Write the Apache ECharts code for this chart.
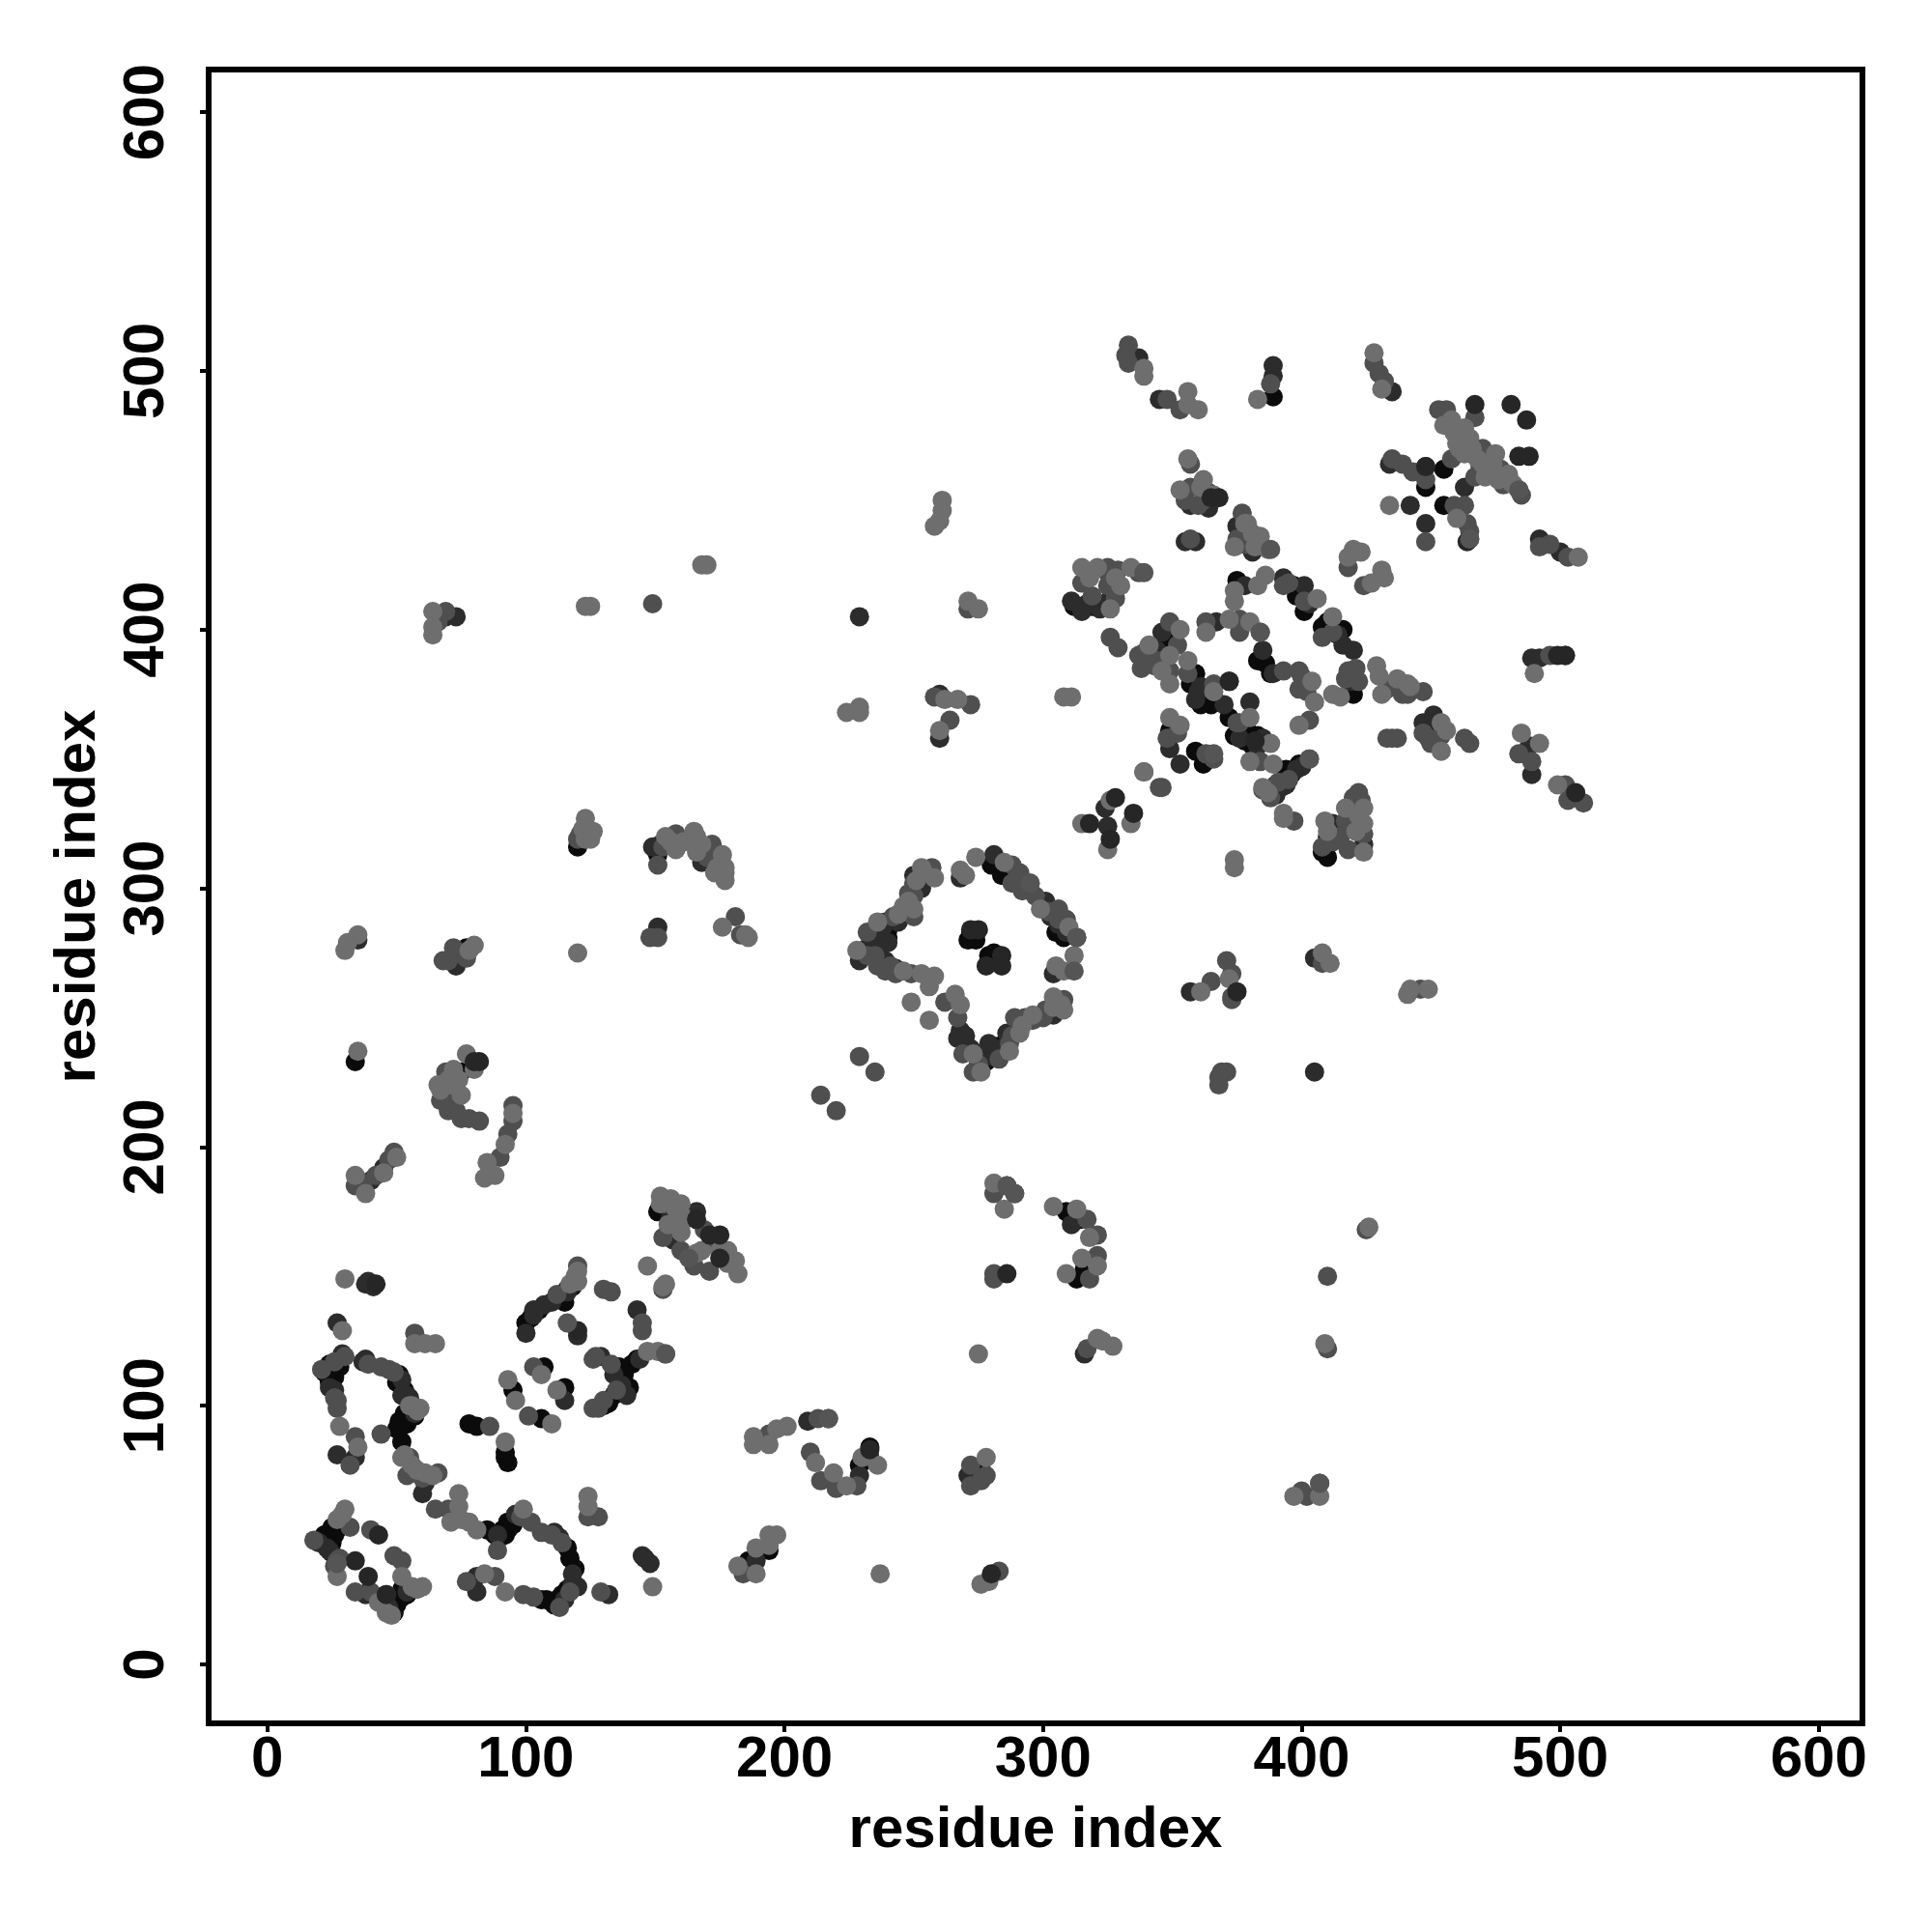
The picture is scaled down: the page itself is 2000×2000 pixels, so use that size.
<!DOCTYPE html>
<html>
<head>
<meta charset="utf-8">
<style>html,body{margin:0;padding:0;background:#fff}#c{width:2000px;height:2000px}</style>
<script src="https://cdn.jsdelivr.net/npm/echarts@6/dist/echarts.min.js"></script>
</head>
<body>
<div id="c"></div>
<script>
const tickLabels = [0, 100, 200, 300, 400, 500, 600];
const axisTitle = "residue index";

const blackPoints = [
[25,53],[24,51],[22,50],[25,47],[25,43],[23,48],[26,50],[22,48],[24,50],[26,53],[28,55],[27,52],[49,22],[51,25],[47,24],[53,27],[50,23],[44,26],[48,24],[52,29],[48,21],[50,24],[52,26],[54,27],[49,20],
[85,52],[91,52],[93,55],[111,23],[106,25],[113,24],[115,26],[92,50],[95,54],[88,50],[90,49],[93,52],[110,24],[112,25],[114,27],[116,29],[108,25],[117,41],[119,37],[116,45],
[24,116],[25,113],[22,113],[24,109],[26,111],[28,115],[23,112],[25,115],[28,118],[51,112],[53,106],[55,95],[52,92],[50,91],[52,86],[54,93],[57,96],[51,94],[53,97],[50,109],[56,96],
[113,142],[100,132],[102,134],[116,145],[115,140],[118,146],[105,137],[136,115],[141,116],[140,107],[132,101],[130,100],[143,118],[138,112],[134,104],
[78,93],[81,92],[92,82],[93,78],[92,80],[95,106],[107,115],[115,107],[106,95],
[151,175],[157,172],[229,77],[233,84],
[309,175],[314,172],[313,149],[316,153],[276,76],[186,40],[194,44],
[120,316],[151,313],[150,315],[169,314],[172,311],[176,309],[174,309],
[72,273],[77,277],[75,275],[74,275],[34,233],[75,229],
[240,284],[235,277],[240,281],[278,233],[283,239],[280,309],[284,305],[305,283],[308,281],[236,283],[234,280],
[271,280],[274,280],[272,283],[279,274],[281,275],
[410,320],[410,312],[408,314],[393,341],[390,338],[319,409],[315,408],[312,409],
[375,419],[397,417],[398,413],[401,407],[408,401],[416,400],[346,395],[349,399],[383,388],[388,383],[386,387],[400,414],[410,403],
[359,383],[357,379],[365,371],[361,371],[372,366],[374,359],[379,361],[383,359],[349,361],[359,353],[362,348],[366,374],[378,357],[381,355],
[394,346],[399,348],[396,344],[419,377],[420,375],[450,362],[389,490],[455,462],[448,455],[455,448]
];
const darkPoints = [
[20,47],[39,28],[38,27],[54,28],[89,50],[96,58],[111,51],[120,30],[118,31],[115,25],[81,28],[81,34],[132,27],[145,42],[146,41],[148,39],[23,45],[24,44],[47,22],[113,49],[118,35],
[38,147],[39,148],[41,146],[27,132],[29,120],[26,106],[34,80],[27,81],[38,118],[55,103],[57,97],[61,70],[60,66],[52,110],[54,104],[24,107],[37,117],[52,104],
[116,144],[107,139],[103,137],[100,128],[120,127],[129,119],[144,118],[139,104],[115,102],[143,137],[110,140],[103,135],[137,108],[134,112],
[166,175],[156,173],[157,164],[164,157],[209,94],[229,73],[233,80],[286,185],[311,170],[316,120],[271,73],[189,40],[40,187],[45,192],
[149,316],[152,317],[168,310],[35,280],[73,270],[151,285],[229,405],[69,405],[73,405],[260,375],[260,358],
[250,305],[253,304],[253,300],[244,287],[239,287],[237,280],[240,279],[229,272],[239,272],[243,269],[268,304],[232,277],[238,285],[237,272],[268,245],[272,238],
[281,313],[291,302],[301,295],[303,289],[306,286],[313,281],[304,267],[304,251],[290,245],[286,244],[279,240],[278,236],[270,240],[270,243],[267,242],[300,293],[309,283],[280,235],[284,238],
[324,331],[325,324],[412,325],[424,317],[390,340],[357,260],[405,229],[405,273],[317,410],[322,408],
[337,505],[345,489],[389,502],[389,498],[435,492],[434,464],[448,463],[442,448],[448,441],
[357,448],[364,447],[355,434],[359,434],[375,440],[381,430],[311,411],[315,407],[326,412],[378,417],[393,420],[401,417],[416,394],[420,392],[403,410],[414,398],
[346,399],[367,403],[385,392],[372,380],[361,378],[359,373],[380,372],[389,383],[419,380],[451,367],[447,364],[452,364],[360,376],[370,371],[385,358],[344,392],
[349,354],[353,348],[383,355],[376,358],[398,346],[394,340],[390,336],[492,435],[500,430],[488,355],[489,344],[489,389],[492,389],[502,390],[463,455],[392,339],[400,347]
];
const midPoints = [
[18,48],[32,53],[27,40],[26,38],[40,52],[52,40],[34,28],[40,28],[46,27],[28,41],[49,42],
[65,60],[70,60],[89,44],[102,55],[114,47],[117,28],[113,22],[103,26],[99,27],[77,32],[88,34],[129,28],[124,57],[128,57],[98,57],[106,51],[110,50],
[26,117],[21,114],[27,102],[27,99],[34,88],[32,77],[39,116],[47,114],[44,89],[54,73],[66,74],[57,128],[55,80],[60,72],[26,103],[30,119],[44,115],[49,113],
[120,154],[133,144],[130,145],[145,132],[145,129],[127,119],[133,116],[154,120],[135,106],[128,99],[103,115],[101,96],[86,92],[154,178],[126,118],[130,102],[126,99],[112,143],
[153,165],[165,154],[171,152],[153,145],[213,95],[217,95],[194,89],[210,82],[214,71],[220,68],[228,69],[169,168],[173,163],[160,160],
[289,182],[281,182],[317,172],[321,166],[321,158],[318,149],[281,149],[281,151],[317,122],[272,77],[272,69],[276,71],[278,73],[184,35],[283,36],
[121,321],[151,309],[158,321],[172,317],[70,272],[72,277],[77,273],[68,272],[151,281],[148,281],[181,289],[183,282],[120,319],[153,316],[170,312],
[69,229],[68,220],[70,214],[75,211],[78,211],[82,210],[71,219],[95,216],[95,210],[90,196],[49,198],[34,185],[37,186],[42,189],[47,195],[93,205],[67,218],[73,214],
[69,407],[66,403],[149,410],[271,408],[258,374],[272,371],[264,365],
[257,308],[250,302],[250,297],[250,289],[232,283],[235,274],[236,270],[239,268],[243,267],[249,267],[262,256],[267,250],[229,235],[235,229],[214,220],[220,214],[242,289],[248,298],[241,270],[232,274],[275,232],
[288,309],[291,306],[288,302],[295,302],[292,299],[306,292],[309,288],[308,257],[301,253],[293,250],[289,250],[287,240],[283,234],[273,229],[269,236],[297,297],[302,291],[306,288],[288,243],[296,249],[300,250],
[339,345],[345,339],[385,338],[397,326],[422,337],[423,334],[417,326],[424,321],[418,315],[413,319],[408,316],[412,318],[415,320],[419,325],[420,335],
[371,272],[373,267],[365,264],[373,258],[373,257],[408,271],[446,261],[369,229],[371,229],[368,224],[368,227],[425,168],[410,150],[410,122],[407,70],[402,65],[400,67],
[333,510],[332,506],[333,503],[348,489],[353,485],[388,495],[428,503],[430,499],[432,496],
[453,485],[456,485],[467,482],[458,466],[469,463],[477,462],[484,454],[485,452],[478,456],[467,459],[435,466],[439,464],[443,461],[448,458],[448,434],[462,474],[470,470],
[459,448],[463,448],[464,441],[465,438],[465,435],[496,433],[503,428],[492,432],
[357,464],[357,455],[364,453],[360,448],[357,435],[375,435],[378,433],[383,434],[418,424],[424,417],[355,450],[362,450],[380,438],[377,445],
[315,418],[319,413],[325,417],[329,423],[337,422],[325,424],[326,397],[329,393],[393,417],[401,411],[412,399],[408,397],[325,422],[328,412],[395,418],
[349,403],[339,391],[337,390],[342,389],[338,385],[349,384],[363,403],[376,404],[384,399],[376,399],[356,383],[366,379],[340,390],[346,388],[343,386],[352,394],
[393,384],[399,384],[399,377],[403,365],[421,385],[417,381],[433,377],[447,376],[439,375],[441,375],[400,382],[402,376],[418,384],[422,380],[435,378],
[447,360],[454,359],[433,358],[437,358],[463,358],[465,356],[484,352],[489,349],[502,340],[509,333],[503,334],[496,390],[449,358],[450,356],[435,358],
[348,358],[363,352],[366,350],[376,364],[384,349],[403,350],[395,342],[346,339],[375,364],[352,360],[388,335],[391,341]
];
const lightPoints = [
[30,60],[27,56],[29,58],[43,24],[48,19],[46,20],[56,30],[60,30],[58,29],[52,34],[27,34],[149,30],
[74,66],[74,61],[71,55],[75,56],[78,55],[81,52],[99,60],[92,28],[84,35],[124,65],[124,61],
[30,149],[57,124],[61,124],[65,124],[29,129],[28,92],[35,84],[59,99],[53,81],[56,77],[61,74],[52,80],[58,75],[56,100],[58,98],[64,73],[55,100],
[120,148],[120,152],[119,150],[117,147],[147,154],[153,146],[147,121],[151,121],[93,110],[96,102],[112,106],[106,112],[110,93],[92,86],
[152,181],[156,180],[160,178],[160,174],[160,167],[166,159],[178,160],[181,156],[182,151],[154,147],[152,178],[158,176],[155,170],[160,170],[168,160],[175,160],[178,155],
[188,88],[188,85],[194,85],[197,91],[201,92],[212,78],[219,74],[224,69],[230,80],[236,77],
[281,186],[285,176],[304,177],[313,176],[318,165],[315,157],[321,154],[309,151],[275,120],[321,126],[323,125],[327,123],
[278,80],[197,50],[194,50],[194,46],[189,45],[182,38],[189,35],[237,35],[276,31],[279,32],
[123,327],[124,322],[126,322],[123,319],[122,323],[125,319],[154,320],[158,315],[156,318],[161,318],[165,322],[166,320],[166,314],[168,317],[176,313],[173,306],[177,306],[177,303],[174,308],[177,308],
[35,282],[31,279],[30,276],[80,278],[78,276],[120,275],[176,285],[185,282],[186,281],
[35,237],[77,236],[80,230],[72,230],[68,224],[71,224],[70,226],[74,226],[66,224],[67,222],[75,220],[95,213],[92,201],[85,194],[88,189],[84,188],[50,196],[45,190],[34,189],[38,182],
[64,407],[64,401],[64,398],[123,409],[125,409],[168,425],[170,425],[271,411],[275,408],[224,368],[229,370],[229,368],[267,373],[262,373],[260,361],
[261,450],[261,446],[260,442],[258,440],[308,374],[311,374],
[253,308],[258,304],[248,295],[250,292],[244,290],[246,293],[251,303],[254,306],[236,287],[228,276],[253,267],[258,266],[256,262],[266,259],[268,255],[249,256],[256,249],[246,268],
[268,307],[270,305],[274,312],[285,310],[299,292],[310,285],[312,274],[305,270],[308,268],[304,258],[308,253],[296,251],[291,244],[287,237],[273,236],[276,229],[292,247],[304,254],[307,255],
[326,334],[334,325],[315,325],[325,315],[374,311],[374,308],[424,331],[417,331],[409,326],[424,325],[424,314],[387,337],[393,329],[393,327],[421,322],[422,328],[410,322],
[361,260],[372,265],[408,275],[411,271],[441,259],[442,261],[449,261],[426,169],[409,124],[397,65],[407,65],
[339,501],[339,498],[356,492],[356,487],[360,485],[383,489],[428,507],[431,493],
[458,481],[455,479],[459,476],[465,474],[461,470],[463,468],[475,468],[473,461],[481,457],[471,459],[434,448],[460,443],[507,428],[463,478],[460,472],[466,470],[468,466],[470,464],[474,464],[476,458],[480,460],[482,456],
[356,466],[353,454],[361,455],[379,441],[381,437],[387,431],[374,432],[420,431],[423,430],[418,428],[431,423],[432,420],[427,418],[366,452],[362,458],[378,441],[384,436],[382,432],
[315,424],[321,424],[334,424],[330,417],[326,408],[386,421],[383,417],[374,415],[374,411],[406,412],[412,405],[318,420],[328,420],
[341,394],[349,390],[349,379],[346,384],[356,388],[363,399],[372,404],[380,403],[353,400],
[404,380],[405,372],[399,363],[412,375],[415,374],[429,386],[437,381],[441,379],[431,375],[454,364],[454,353],[430,382],[442,378],[456,361],
[485,360],[492,356],[490,383],[499,340],[349,366],[353,363],[339,345],[366,376],[380,366],[388,356],[380,349],[389,348],[385,339]
];
const topDarkPoints = [
[42,147],[43,50],[82,233],[80,233],[39,34],[34,40],[46,27],
[120,129],[166,172],[175,166],[171,166],[233,83],[175,157],[286,151],[280,35],
[272,284],[275,284],[284,274],[284,270],[278,270],
[328,335],[335,329],[318,325],[326,319],[375,260],[372,380],
[467,487],[481,487],[487,481],[488,467],[484,467],[448,463],[464,434],[499,390],[502,390],[506,337],
[382,357],[365,451],[368,451]
];
const topMidPoints = [
[27,39],[116,132],[286,185],[289,182],[163,157],[217,95],[154,120],[312,268],[313,281],[295,302],
[339,422],[465,435],[407,70],[484,454],[388,431],[366,352],[384,399],[403,350]
];

const layers = [
  { name: "black", data: blackPoints, color: "#0b0b0b" },
  { name: "dark", data: darkPoints, color: "#2c2c2c" },
  { name: "mid", data: midPoints, color: "#4f4f4f" },
  { name: "light", data: lightPoints, color: "#6e6e6e" },
  { name: "topDark", data: topDarkPoints, color: "#262626" },
  { name: "topMid", data: topMidPoints, color: "#555555" }
];

const font = "'Liberation Sans', Arial, Helvetica, sans-serif";
const labelStyle = { color: "#000", fontSize: 60, fontWeight: "bold", fontFamily: font };

const chart = echarts.init(document.getElementById("c"), null, { renderer: "canvas" });
chart.setOption({
  animation: false,
  backgroundColor: "#fff",
  grid: { show: true, left: 216, top: 72, width: 1712, height: 1712, borderColor: "#000", borderWidth: 6, backgroundColor: "transparent", containLabel: false },
  xAxis: {
    type: "value", min: -22.7, max: 616.9,
    name: axisTitle, nameLocation: "middle", nameGap: 81, nameMoveOverlap: false,
    nameTextStyle: labelStyle,
    splitLine: { show: false },
    axisLine: { show: false, onZero: false },
    axisTick: { show: true, length: 9, lineStyle: { color: "#000", width: 4 }, customValues: tickLabels },
    axisLabel: Object.assign({ margin: 8, hideOverlap: false, customValues: tickLabels }, labelStyle)
  },
  yAxis: {
    type: "value", min: -22.8, max: 616.5,
    name: axisTitle, nameLocation: "middle", nameGap: 105, nameMoveOverlap: false,
    nameTextStyle: labelStyle,
    splitLine: { show: false },
    axisLine: { show: false, onZero: false },
    axisTick: { show: true, length: 9, lineStyle: { color: "#000", width: 4 }, customValues: tickLabels },
    axisLabel: Object.assign({ rotate: 90, margin: 34, hideOverlap: false, customValues: tickLabels }, labelStyle)
  },
  series: layers.map(l => ({
    name: l.name, type: "scatter", data: l.data, symbol: "circle", symbolSize: 20,
    itemStyle: { color: l.color, opacity: 1 }, silent: true, clip: false
  }))
});
</script>
</body>
</html>
